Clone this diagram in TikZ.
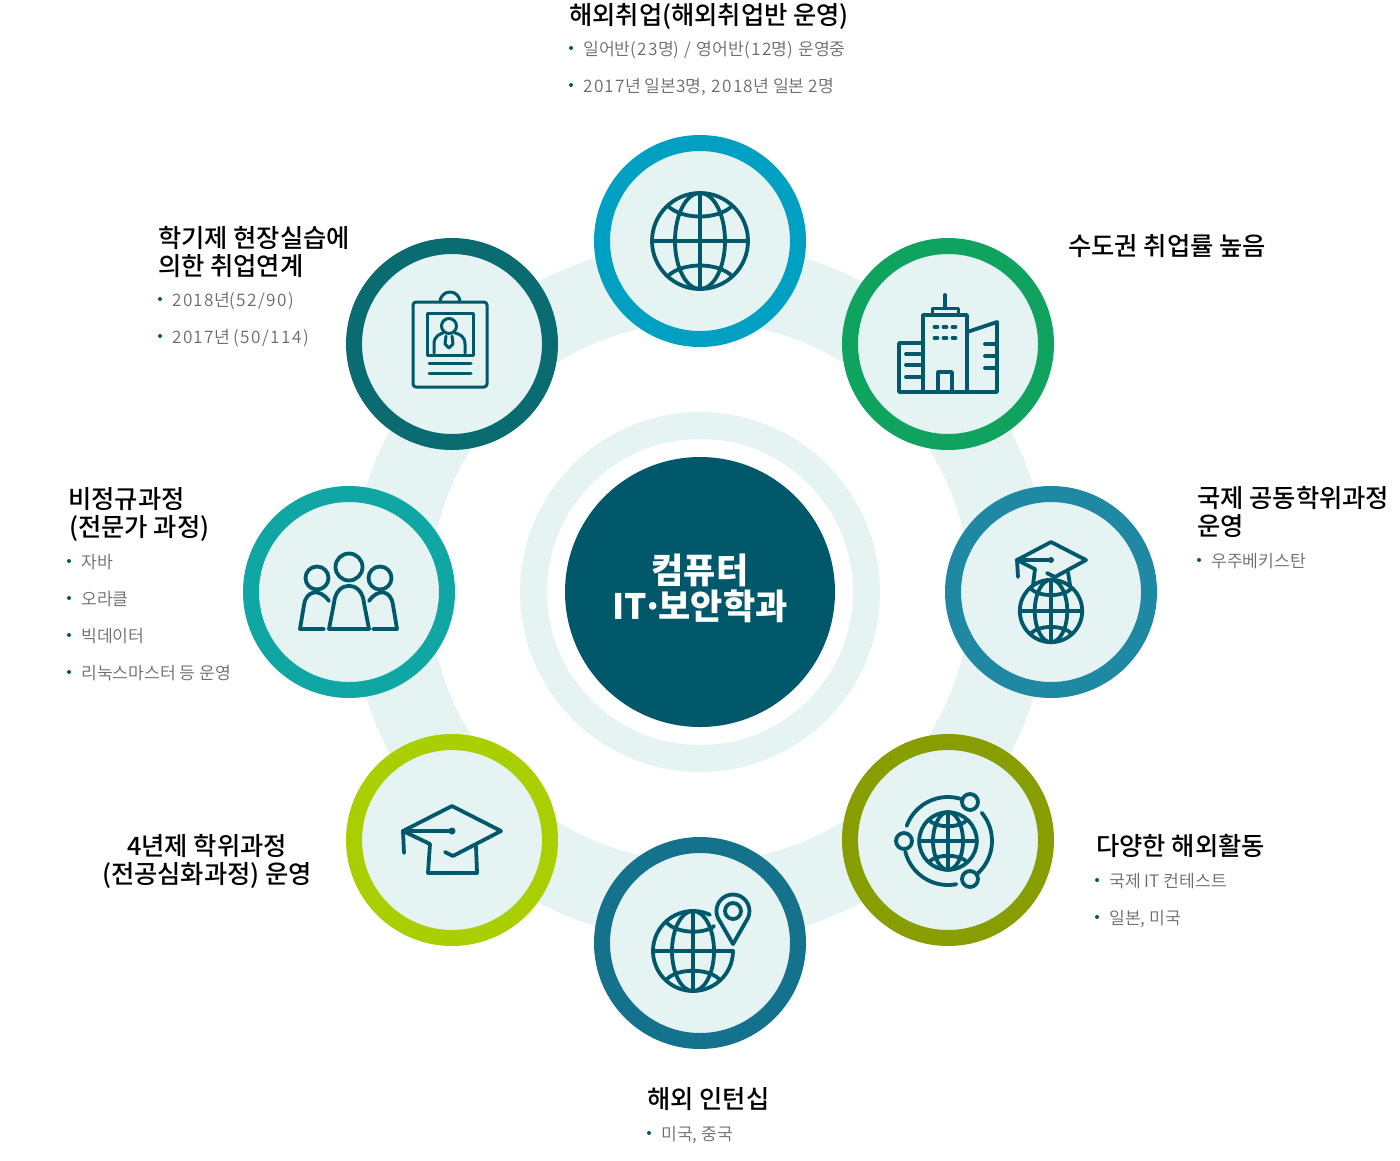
\documentclass[tikz,border=0pt]{standalone}
\usepackage{fontspec}
\setmainfont{Noto Sans CJK KR}
\newfontfamily\titlefont{Noto Sans CJK KR Medium}
\newfontfamily\itemfont{Noto Sans CJK KR DemiLight}
\newfontfamily\numfont[LetterSpace=8]{Noto Sans CJK KR DemiLight}
\newcommand{\nums}[1]{{\numfont #1}}
\usepackage{xcolor}
\usetikzlibrary{positioning,calc}

\definecolor{ringfill}{HTML}{E5F4F3}
\definecolor{iconcol}{HTML}{01586A}
\definecolor{itemgray}{HTML}{6A6A6A}
\definecolor{cTop}{HTML}{00A0C2}
\definecolor{cTopRight}{HTML}{10A35F}
\definecolor{cRight}{HTML}{1F89A3}
\definecolor{cLowRight}{HTML}{889E00}
\definecolor{cLow}{HTML}{14728C}
\definecolor{cLowLeft}{HTML}{A9CF00}
\definecolor{cLeft}{HTML}{10A6A3}
\definecolor{cTopLeft}{HTML}{0A6B70}

\tikzset{
    stage/.style={draw,circle,fill=ringfill,line width=16pt,minimum size=196pt,inner sep=0pt},
    iconline/.style={draw=iconcol,line width=3.8pt,line cap=round,line join=round},
    thinline/.style={draw=iconcol,line width=3pt,line cap=round,line join=round},
    headtext/.style={anchor=base west,inner sep=0pt,font=\titlefont\fontsize{25.3}{28}\selectfont,text=black},
    itemtext/.style={anchor=base west,inner sep=0pt,font=\itemfont\fontsize{17.2}{20}\selectfont,text=itemgray},
    itemdot/.style={circle,fill=iconcol,minimum size=4pt,inner sep=0pt},
    globeicon/.pic={
        \draw[iconline] (0,0) circle (48);
        \draw[iconline] (0,0) ellipse (25 and 48);
        \draw[iconline] (-48,0) -- (48,0);
        \draw[iconline] (0,-48) -- (0,48);
        \draw[iconline] (-32,-35) .. controls (-18,-21) and (18,-21) .. (32,-35);
        \draw[iconline] (-32,35) .. controls (-18,21) and (18,21) .. (32,35);
    }
}

\begin{document}
\begin{tikzpicture}[x=1pt,y=-1pt]
    \useasboundingbox (0,0) rectangle (1400,1160);

    % Rings behind the stages
    \fill[ringfill,even odd rule] (700,592) circle (350) (700,592) circle (270);
    \fill[ringfill,even odd rule] (700,592) circle (180) (700,592) circle (153);
    \node[circle,fill=iconcol,minimum size=270pt,inner sep=0pt] (dept) at (700,592) {};
    \node[text=white,align=center,font=\fontsize{35}{36}\selectfont\bfseries] (deptname) at (700,588)
        {컴퓨터\\IT\kern-5pt·\kern-5pt 보안학과};

    % Stages, clockwise from the top
    \node[stage,draw=cTop] (sTop) at (700,241) {};
    \node[stage,draw=cTopRight] (sTopRight) at (948,344) {};
    \node[stage,draw=cRight] (sRight) at (1051,592) {};
    \node[stage,draw=cLowRight] (sLowRight) at (948,840) {};
    \node[stage,draw=cLow] (sLow) at (700,943) {};
    \node[stage,draw=cLowLeft] (sLowLeft) at (452,840) {};
    \node[stage,draw=cLeft] (sLeft) at (349,592) {};
    \node[stage,draw=cTopLeft] (sTopLeft) at (452,344) {};

    % Top: globe
    \pic at (700,241) {globeicon};

    % Top right: buildings
    \draw[iconline] (945,295) -- (945,308);
    \draw[thinline] (932,314) -- (932,308) -- (958,308) -- (958,314);
    \draw[iconline] (923,392) -- (923,315) -- (967,315) -- (967,392);
    \draw[iconline] (923,343) -- (899,343) -- (899,392) -- (997,392) -- (997,322) -- (967,332);
    \draw[iconline] (938,392) -- (938,372) -- (952,372) -- (952,392);
    \foreach \yy in {327,338}
        \foreach \xx in {934.5,943.5,952.5}
            \draw[iconline] (\xx,\yy) -- ++(3,0);
    \foreach \yy in {354,365,377}
        \draw[iconline] (906,\yy) -- (920,\yy);
    \foreach \yy in {344,356,368}
        \draw[iconline] (985,\yy) -- (996,\yy);

    % Right: cap over globe
    \pic[scale=0.65] at (1051,611) {globeicon};
    \draw[iconline] (1018,577) -- (1017,560) -- (1051,542) -- (1086,560) -- (1055,577) -- (1047,573);
    \draw[iconline] (1017,560) -- (1051,560);
    \fill[iconcol] (1051,560) circle (3);
    \draw[iconline] (1017,560) -- (1035,569) -- (1033,585);
    \draw[iconline] (1068,572) -- (1070,585);

    % Lower right: globe with orbits
    \pic[scale=0.6] at (948,841) {globeicon};
    \begin{scope}[shift={(948,841)}]
        \draw[iconline] (200:44) arc[start angle=200,end angle=289,radius=44];
        \draw[iconline] (320:44) arc[start angle=320,end angle=408,radius=44];
        \draw[iconline] (79:44) arc[start angle=79,end angle=166,radius=44];
    \end{scope}
    \draw[iconline] (970,802) circle (8);
    \draw[iconline] (904,841) circle (8);
    \draw[iconline] (970,879) circle (8);

    % Bottom: globe with pin
    \begin{scope}[shift={(693,951)}]
        \draw[iconline] (295:40) arc[start angle=295,end angle=0,radius=40];
        \draw[iconline] (0,0) ellipse (21 and 40);
        \draw[iconline] (-40,0) -- (40,0);
        \draw[iconline] (0,-40) -- (0,40);
        \draw[iconline] (-26,-28) .. controls (-15,-17) and (12,-17) .. (21,-25);
        \draw[iconline] (-26,28) .. controls (-15,17) and (15,17) .. (26,28);
    \end{scope}
    \draw[iconline] (733,944) -- (718,918) arc[start angle=155,end angle=385,radius=16.5] -- cycle;
    \draw[iconline] (733,911) circle (8);

    % Lower left: cap
    \draw[iconline] (404,853) -- (403,831) -- (452,806) -- (501,831) -- (453,856) -- (445,852);
    \draw[iconline] (403,831) -- (452,831);
    \fill[iconcol] (452,831) circle (3.5);
    \draw[iconline] (403,831) -- (430,844) -- (428,873) -- (477,873) -- (476,846);

    % Left: three people
    \draw[iconline] (349,567) circle (13.5);
    \draw[iconline] (317,578) circle (11.5);
    \draw[iconline] (380,578) circle (11.5);
    \draw[iconline] (329,629) -- (334,603) .. controls (336,580) and (362,580) .. (364,603) -- (369,629) -- cycle;
    \draw[iconline] (324,629) -- (300,629) -- (304,605) .. controls (306,590) and (320,588) .. (329,601);
    \draw[iconline] (373,629) -- (397,629) -- (393,605) .. controls (391,590) and (378,588) .. (369,601);

    % Top left: id badge
    \draw[thinline,rounded corners=3pt] (413,302) rectangle (487,387);
    \draw[thinline] (440,302) arc[start angle=180,end angle=360,radius=10];
    \draw[thinline] (427,313) rectangle (473,355);
    \draw[thinline] (449,326) circle (7.5);
    \draw[thinline] (434,353) -- (434,344) .. controls (434,336) and (440,334) .. (443,333);
    \draw[thinline] (465,353) -- (465,344) .. controls (465,336) and (459,334) .. (455,333);
    \draw[thinline] (446,336) -- (445,344) -- (449,348) -- (453,344) -- (452,336);
    \draw[thinline] (429,363) -- (471,363);
    \draw[thinline] (429,373) -- (471,373);

    % Text, top
    \node[headtext] (hTop) at (569,24) {해외취업(해외취업반 운영)};
    \node[itemdot] (dTopA) at (571,48) {};
    \node[itemtext] (tTopA) at (583,55) {일어반\nums{(23}명\nums{) / }영어반\nums{(12}명\nums{) }운영중};
    \node[itemdot] (dTopB) at (571,85) {};
    \node[itemtext] (tTopB) at (583,92) {\nums{2017}년 일본\nums{3}명\nums{, 2018}년 일본 \nums{2}명};

    % Text, top right
    \node[headtext] (hTopRight) at (1068,255) {수도권 취업률 높음};

    % Text, right
    \node[headtext] (hRightA) at (1197,507) {국제 공동학위과정};
    \node[headtext] (hRightB) at (1197,535) {운영};
    \node[itemdot] (dRightA) at (1199,560) {};
    \node[itemtext] (tRightA) at (1211,567) {우주베키스탄};

    % Text, lower right
    \node[headtext] (hLowRight) at (1096,855) {다양한 해외활동};
    \node[itemdot] (dLowRightA) at (1097,880) {};
    \node[itemtext] (tLowRightA) at (1109,887) {국제 IT 컨테스트};
    \node[itemdot] (dLowRightB) at (1097,917) {};
    \node[itemtext] (tLowRightB) at (1109,924) {일본, 미국};

    % Text, bottom
    \node[headtext] (hLow) at (647,1108) {해외 인턴십};
    \node[itemdot] (dLowA) at (649,1133) {};
    \node[itemtext] (tLowA) at (661,1140) {미국, 중국};

    % Text, lower left
    \node[headtext,anchor=base] (hLowLeftA) at (207,855) {4년제 학위과정};
    \node[headtext,anchor=base] (hLowLeftB) at (207,883) {(전공심화과정) 운영};

    % Text, left
    \node[headtext] (hLeftA) at (68,508) {비정규과정};
    \node[headtext] (hLeftB) at (69,536) {(전문가 과정)};
    \node[itemdot] (dLeftA) at (69,561) {};
    \node[itemtext] (tLeftA) at (81,568) {자바};
    \node[itemdot] (dLeftB) at (69,598) {};
    \node[itemtext] (tLeftB) at (81,605) {오라클};
    \node[itemdot] (dLeftC) at (69,635) {};
    \node[itemtext] (tLeftC) at (81,642) {빅데이터};
    \node[itemdot] (dLeftD) at (69,672) {};
    \node[itemtext] (tLeftD) at (81,679) {리눅스마스터 등 운영};

    % Text, top left
    \node[headtext] (hTopLeftA) at (158,247) {학기제 현장실습에};
    \node[headtext] (hTopLeftB) at (158,275) {의한 취업연계};
    \node[itemdot] (dTopLeftA) at (160,299) {};
    \node[itemtext] (tTopLeftA) at (172,306) {\nums{2018}년\nums{(52/90)}};
    \node[itemdot] (dTopLeftB) at (160,336) {};
    \node[itemtext] (tTopLeftB) at (172,343) {\nums{2017}년 \nums{(50/114)}};
\end{tikzpicture}
\end{document}
